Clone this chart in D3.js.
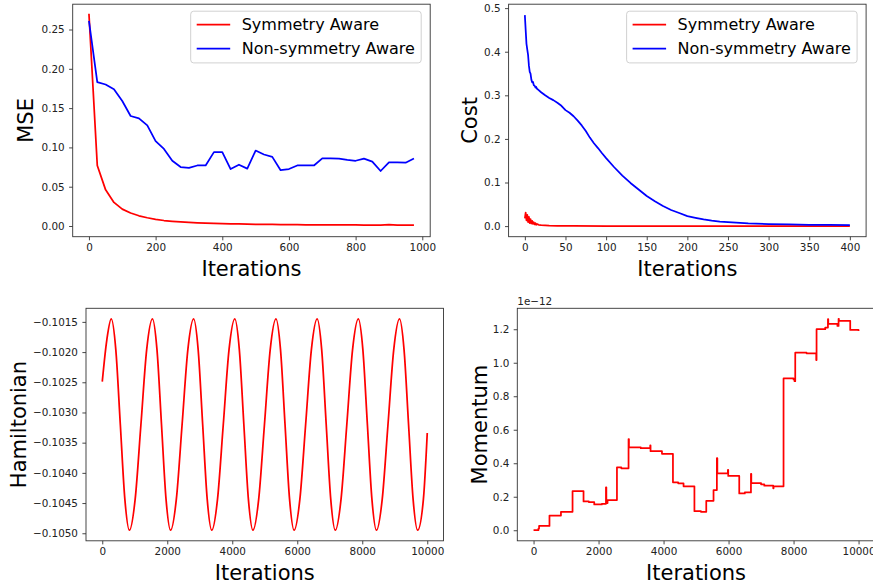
<!DOCTYPE html>
<html>
<head>
	<title>Symmetry Aware</title>
	<meta http-equiv="Content-Type" content="text/html; charset=utf-8" />
	<script type="text/javascript" charset="utf-8" src="https://cdn.jsdelivr.net/npm/d3@7/dist/d3.min.js"></script>
	<style type="text/css">
	body {
	  margin: 0px;
	  background-color: #fff;
	}
	svg {
	  display: block;
	  font-family: 'DejaVu Sans', sans-serif;
	}
	</style>
</head>
<body>

<svg width="873" height="588" version="1.1" xmlns="http://www.w3.org/2000/svg"></svg>

<script type="text/javascript">

// ---- data ----
var v_Legend   = ["Symmetry Aware" ,"Non-symmetry Aware"];

var v_MseIter  = [0,25,50,75,100,125,150,175,200,225,250,275,300,325,350,375,400,425,450,475,
                  500,525,550,575,600,625,650,675,700,725,750,775,800,825,850,875,900,925,950,975];
var v_MseSym   = [0.270,0.077,0.046,0.030,0.0215,0.0165,0.013,0.0105,0.0085,0.007,0.006,0.0052,0.0046,0.0041,0.0037,0.0033,0.003,0.0028,0.0026,0.0024,
                  0.0022,0.0021,0.002,0.0019,0.0018,0.0017,0.0016,0.0016,0.0015,0.0014,0.0014,0.0013,0.0013,0.0012,0.0012,0.0012,0.0018,0.0011,0.001,0.001];
var v_MseNon   = [0.261,0.183,0.180,0.174,0.159,0.140,0.137,0.128,0.108,0.098,0.083,0.075,0.074,0.077,0.077,0.094,0.094,0.0725,0.078,0.073,
                  0.096,0.091,0.088,0.071,0.0725,0.077,0.077,0.077,0.086,0.086,0.0857,0.084,0.083,0.0857,0.082,0.070,0.081,0.081,0.0806,0.086];

var v_CostIterSym = [0,1,2,3,4,5,6,7,8,9,10,11,12,13,14,15,17,20,25,30,40,60,100,200,400];
var v_CostSym     = [0.018,0.031,0.013,0.026,0.009,0.021,0.007,0.016,0.006,0.012,0.005,0.009,0.004,0.007,0.003,0.005,0.003,0.002,0.0015,0.001,0.0007,0.0004,0.0002,0.0001,0.0001];
var v_CostIterNon = [0,1,2,3,4,5,6,7,8,9,10,11,12,13,14,15,17,20,25,30,35,40,45,50,55,60,65,70,75,80,85,90,95,100,
                     110,120,130,140,150,160,170,180,190,200,210,220,230,240,250,275,300,325,350,375,400];
var v_CostNon     = [0.484,0.45,0.418,0.405,0.392,0.368,0.354,0.350,0.336,0.330,0.331,0.323,0.322,0.318,0.319,0.315,0.312,0.307,0.300,0.294,0.289,0.283,0.276,0.266,0.260,0.252,0.242,0.231,0.218,0.203,0.190,0.179,0.167,0.156,
                     0.135,0.116,0.099,0.084,0.069,0.057,0.046,0.037,0.030,0.023,0.019,0.0152,0.0125,0.0105,0.009,0.0062,0.0047,0.0037,0.0031,0.0027,0.0023];

var v_HamIter  = [0,140,
                  277,417,556,696,835,1012,1190,1367,
                  1544,1684,1823,1963,2102,2279,2457,2634,
                  2811,2951,3090,3230,3369,3546,3724,3901,
                  4078,4218,4357,4497,4636,4813,4991,5168,
                  5345,5485,5624,5764,5903,6080,6258,6435,
                  6612,6752,6891,7031,7170,7347,7525,7702,
                  7879,8019,8158,8298,8437,8614,8792,8969,
                  9146,9286,9425,9565,9704,9881,10000];
var v_HamValue = [-0.10249,-0.10180,
                  -0.10145,-0.10196,-0.10320,-0.10444,-0.10495,-0.10444,-0.10320,-0.10196,
                  -0.10145,-0.10196,-0.10320,-0.10444,-0.10495,-0.10444,-0.10320,-0.10196,
                  -0.10145,-0.10196,-0.10320,-0.10444,-0.10495,-0.10444,-0.10320,-0.10196,
                  -0.10145,-0.10196,-0.10320,-0.10444,-0.10495,-0.10444,-0.10320,-0.10196,
                  -0.10145,-0.10196,-0.10320,-0.10444,-0.10495,-0.10444,-0.10320,-0.10196,
                  -0.10145,-0.10196,-0.10320,-0.10444,-0.10495,-0.10444,-0.10320,-0.10196,
                  -0.10145,-0.10196,-0.10320,-0.10444,-0.10495,-0.10444,-0.10320,-0.10196,
                  -0.10145,-0.10196,-0.10320,-0.10444,-0.10495,-0.10444,-0.10334];

// momentum, in units of 1e-12, held until the next iteration
var v_MomIter  = [0,150,170,490,843,1200,1538,1700,1867,2100,2228,2240,2277,2566,2700,2923,2935,3300,3590,3600,
                  3951,4289,4450,4615,4950,5150,5314,5538,5641,5655,5980,5990,6329,6500,6689,6700,7000,7100,7375,7385,
                  7692,8000,8030,8052,8400,8698,8708,8975,9058,9068,9350,9385,9395,9744,10000];
var v_MomValue = [0.0,0.01,0.026,0.088,0.11,0.234,0.172,0.168,0.154,0.158,0.256,0.162,0.18,0.376,0.37,0.544,0.494,0.49,0.506,0.472,
                  0.456,0.286,0.28,0.262,0.114,0.11,0.176,0.24,0.43,0.34,0.36,0.324,0.22,0.226,0.336,0.282,0.274,0.266,0.25,0.262,
                  0.906,0.9,0.89,1.06,1.056,1.016,1.2,1.21,1.26,1.232,1.22,1.262,1.25,1.196,1.19];

var v_MseTicksX  = [0,200,400,600,800,1000];
var v_MseTicksY  = [0,0.05,0.10,0.15,0.20,0.25];
var v_CostTicksX = [0,50,100,150,200,250,300,350,400];
var v_CostTicksY = [0,0.1,0.2,0.3,0.4,0.5];
var v_LongTicksX = [0,2000,4000,6000,8000,10000];
var v_HamTicksY  = [-0.1050,-0.1045,-0.1040,-0.1035,-0.1030,-0.1025,-0.1020,-0.1015];
var v_MomTicksY  = [0,0.2,0.4,0.6,0.8,1.0,1.2];

// ---- layout ----
var v_Colors = {"sym": "#ff0000" ,"non": "#0000ff" ,"axis": "#333333"};
var v_W = 357.5 ,v_H = 232.5;
var v_SVG = d3.select("svg");

function zip(i_X ,i_Y)
{
	return i_X.map(function(d ,i) { return [d ,i_Y[i]]; });
}

function drawPanel(o)
{
	var g = v_SVG.append("g").attr("transform" ,"translate(" + o.x + "," + o.y + ")");
	var x = d3.scaleLinear().domain(o.xDomain).range([0 ,v_W]);
	var y = d3.scaleLinear().domain(o.yDomain).range([v_H ,0]);

	var xAxis = g.append("g").attr("transform" ,"translate(0," + v_H + ")")
	.call(d3.axisBottom(x).tickValues(o.xTicks).tickSize(3.6).tickPadding(3.6).tickFormat(d3.format("d")));
	var yAxis = g.append("g")
	.call(d3.axisLeft(y).tickValues(o.yTicks).tickSize(3.6).tickPadding(4.4).tickFormat(d3.format(o.yFormat)));

	[xAxis ,yAxis].forEach(function(a)
	{
		a.select(".domain").remove();
		a.selectAll("line").attr("stroke" ,v_Colors.axis).attr("stroke-width" ,0.9);
		a.selectAll("text").attr("fill" ,"#222").style("font-size" ,"10.4px").style("font-family" ,"'DejaVu Sans', sans-serif");
	});

	var clipId = "clip" + o.id;
	g.append("clipPath").attr("id" ,clipId).append("rect").attr("width" ,v_W).attr("height" ,v_H);

	o.series.forEach(function(s)
	{
		g.append("path")
		.datum(s.data)
		.attr("clip-path" ,"url(#" + clipId + ")")
		.attr("fill" ,"none")
		.attr("stroke" ,s.color)
		.attr("stroke-width" ,1.75)
		.attr("stroke-linejoin" ,"round")
		.attr("d" ,d3.line().curve(s.curve || d3.curveLinear)
			.x(function(d) { return x(d[0]); })
			.y(function(d) { return y(d[1]); }));
	});

	g.append("rect")
	.attr("width" ,v_W).attr("height" ,v_H)
	.attr("fill" ,"none").attr("stroke" ,v_Colors.axis).attr("stroke-width" ,0.9);

	g.append("text")
	.attr("x" ,v_W / 2).attr("y" ,v_H + 39.5)
	.attr("text-anchor" ,"middle")
	.style("font-size" ,"21px")
	.text("Iterations");

	g.append("text")
	.attr("transform" ,"translate(" + (-o.yLabelOff) + "," + (v_H / 2) + ") rotate(-90)")
	.attr("text-anchor" ,"middle")
	.style("font-size" ,"21px")
	.text(o.yLabel);

	if ( o.offsetText )
	{
		g.append("text").attr("x" ,0).attr("y" ,-3.5)
		.style("font-size" ,"10.4px").attr("fill" ,"#222")
		.text(o.offsetText);
	}

	if ( o.legend )
	{
		var lg = g.append("g").attr("transform" ,"translate(" + (v_W - 9 - 230.5) + ",7)");
		lg.append("rect")
		.attr("width" ,230.5).attr("height" ,51.7).attr("rx" ,3)
		.attr("fill" ,"white").attr("fill-opacity" ,0.8)
		.attr("stroke" ,"#cccccc").attr("stroke-width" ,0.9);
		v_Legend.forEach(function(name ,i)
		{
			var ly = 13.3 + i * 24;
			lg.append("line")
			.attr("x1" ,6).attr("x2" ,39.5).attr("y1" ,ly).attr("y2" ,ly)
			.attr("stroke" ,i == 0 ? v_Colors.sym : v_Colors.non).attr("stroke-width" ,1.75);
			lg.append("text")
			.attr("x" ,51).attr("y" ,ly).attr("dy" ,"0.36em")
			.style("font-size" ,"16px")
			.text(name);
		});
	}
}

drawPanel({id: 1 ,x: 72.7 ,y: 4.2 ,xDomain: [-48.75 ,1023.75] ,yDomain: [-0.0136 ,0.2822]
	,xTicks: v_MseTicksX ,yTicks: v_MseTicksY ,yFormat: ".2f" ,yLabel: "MSE" ,yLabelOff: 40 ,legend: true
	,series: [{data: zip(v_MseIter ,v_MseSym) ,color: v_Colors.sym}
	         ,{data: zip(v_MseIter ,v_MseNon) ,color: v_Colors.non}]});

drawPanel({id: 2 ,x: 508.6 ,y: 4.2 ,xDomain: [-20 ,420] ,yDomain: [-0.0243 ,0.509]
	,xTicks: v_CostTicksX ,yTicks: v_CostTicksY ,yFormat: ".1f" ,yLabel: "Cost" ,yLabelOff: 32 ,legend: true
	,series: [{data: zip(v_CostIterSym ,v_CostSym) ,color: v_Colors.sym}
	         ,{data: zip(v_CostIterNon ,v_CostNon) ,color: v_Colors.non}]});

drawPanel({id: 3 ,x: 86 ,y: 308.3 ,xDomain: [-500 ,10500] ,yDomain: [-0.105125 ,-0.101275]
	,xTicks: v_LongTicksX ,yTicks: v_HamTicksY ,yFormat: ".4f" ,yLabel: "Hamiltonian" ,yLabelOff: 60
	,series: [{data: zip(v_HamIter ,v_HamValue) ,color: v_Colors.sym ,curve: d3.curveMonotoneX}]});

drawPanel({id: 4 ,x: 517.3 ,y: 308.3 ,xDomain: [-500 ,10500] ,yDomain: [-0.063 ,1.325]
	,xTicks: v_LongTicksX ,yTicks: v_MomTicksY ,yFormat: ".1f" ,yLabel: "Momentum" ,yLabelOff: 30.6
	,offsetText: "1e\u221212"
	,series: [{data: zip(v_MomIter ,v_MomValue) ,color: v_Colors.sym ,curve: d3.curveStepAfter}]});

</script>

</body>
</html>
